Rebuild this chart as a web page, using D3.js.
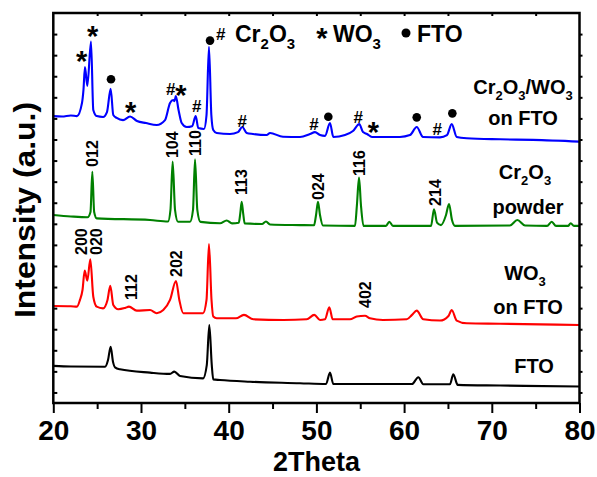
<!DOCTYPE html>
<html><head><meta charset="utf-8">
<script src="https://cdn.jsdelivr.net/npm/d3@7"></script>
<style>
body{margin:0;background:#fff}
text{font-family:"Liberation Sans",Arial,sans-serif;font-weight:bold;fill:#000}
</style>
</head><body>
<svg id="chart" width="597" height="477"></svg>
<script>
// ---------- DATA (2Theta, intensity a.u.) ----------
const xTicks = [20, 30, 40, 50, 60, 70, 80];
const xMinorTicks = [25, 35, 45, 55, 65, 75];
const topTicks = [25, 30, 35, 40, 45, 50, 55, 60, 65, 70, 75];
const yTicks = d3.range(0, 1800, 100);

const seriesCrWO = [[20,1311],[21,1309],[22,1314],[22.7,1311],[23.27,1373],[23.44,1435],[23.61,1544],[23.88,1454],[24.30,1664],[24.56,1340],[24.95,1311],[25.67,1307],[26.12,1330],[26.54,1440],[26.84,1316],[27.23,1302],[27.95,1292],[28.75,1309],[29.54,1288],[30.57,1278],[31.79,1269],[32.74,1292],[33.31,1373],[33.68,1387],[33.82,1382],[33.97,1406],[34.28,1340],[34.64,1278],[35.21,1259],[35.82,1263],[36.24,1311],[36.53,1254],[37.18,1250],[37.47,1316],[37.75,1640],[38.02,1316],[38.24,1245],[38.63,1231],[40.15,1226],[41.06,1235],[41.55,1259],[42.05,1231],[42.77,1226],[44.33,1221],[44.71,1231],[46.19,1213],[48.13,1212],[49.27,1226],[49.84,1235],[50.41,1221],[50.98,1217],[51.55,1278],[51.93,1212],[53.26,1221],[54.17,1240],[54.89,1273],[55.31,1235],[55.77,1226],[56.34,1212],[59.53,1212],[60.67,1221],[61.44,1259],[62.16,1212],[64.09,1210],[64.89,1221],[65.43,1273],[66.0,1212],[67.14,1206],[70.94,1201],[74.70,1198],[80,1190]];

const seriesCr2O3 = [[20,842],[22,835],[23.9,831],[24.24,856],[24.45,1047],[24.66,856],[24.95,826],[31.03,818],[33.08,811],[33.36,866],[33.61,1095],[33.88,866],[34.22,810],[35.59,810],[35.93,866],[36.16,1106],[36.42,866],[36.78,809],[39.01,803],[39.77,816],[40.38,802],[41.15,805],[41.32,850],[41.48,905],[41.65,850],[41.82,802],[43.8,799],[44.25,811],[44.71,797],[48.13,794],[49.73,793],[49.96,842],[50.18,904],[50.41,842],[50.75,792],[54.4,790],[54.62,889],[54.86,1019],[55.08,889],[55.37,790],[57.94,790],[58.31,810],[58.73,790],[63.07,790],[63.41,869],[63.75,806],[64.21,794],[64.78,842],[65.12,894],[65.46,818],[65.80,790],[72.07,792],[72.91,818],[73.79,792],[76.3,790],[76.83,810],[77.32,790],[78.69,790],[79.0,803],[79.37,790],[80,790]];

const seriesWO3 = [[20,410],[22,409],[22.7,407],[23.04,439],[23.33,486],[23.58,578],[23.88,530],[24.22,632],[24.56,454],[24.95,407],[25.67,399],[26.18,439],[26.50,506],[26.84,415],[27.41,395],[28.18,401],[28.63,407],[29.51,388],[31.03,391],[31.79,376],[32.54,391],[33.31,439],[33.99,529],[34.37,439],[34.82,376],[37.07,376],[37.47,439],[37.75,704],[38.04,439],[38.24,360],[38.63,352],[40.83,352],[41.74,368],[42.81,347],[46.23,344],[48.89,347],[49.76,368],[50.41,344],[50.98,347],[51.47,404],[51.86,347],[53.83,347],[54.60,360],[55.54,364],[56.11,352],[57.59,344],[60.30,347],[60.9,368],[61.44,388],[62.19,347],[64.09,341],[65.06,363],[65.43,391],[66.0,341],[67.14,328],[70.94,326],[80,320]];

const seriesFTO = [[20,126],[22,123],[25.9,122],[26.24,154],[26.54,217],[26.81,145],[27.04,119],[27.6,110],[31.03,94],[33.31,88],[33.80,99],[34.45,78],[37.07,67],[37.5,130],[37.79,320],[38.07,130],[38.24,62],[39.0,59],[42.43,51],[48.13,44],[51.10,40],[51.55,94],[51.93,40],[55.74,40],[60.9,40],[61.62,72],[62.19,39],[65.23,39],[65.61,86],[66.11,36],[70.94,33],[80,28]];

const seriesNames = ["Cr2O3/WO3 on FTO", "Cr2O3 powder", "WO3 on FTO", "FTO"];
const seriesColors = ["#0000ff", "#008000", "#ff0000", "#000000"];

// Miller index labels: [text, 2Theta, intensity at label start]
const hklCr2O3 = [["012",24.49,1070],["104",33.61,1112],["110",36.16,1122],["113",41.48,937],["024",50.22,913],["116",54.86,1027],["214",63.53,885]];
const hklWO3 = [["200",23.16,652],["020",24.87,652],["112",28.86,439],["202",33.99,548],["402",55.54,401]];

// Phase markers on the composite pattern: [symbol, 2Theta, intensity]
const phaseMarks = [["*",23.24,1601],["*",24.49,1719],["●",26.58,1486],["*",28.83,1359],["#",33.39,1439],["*",34.56,1439],["#",36.35,1359],["●",37.87,1669],["#",41.55,1289],["#",49.73,1274],["●",51.36,1308],["#",54.78,1305],["*",56.49,1264],["●",61.44,1305],["#",63.79,1248],["●",65.50,1324]];

// ---------- CHART ----------
const svg = d3.select("#chart");
const L = 53.3, R = 579.5, T = 13, B = 403;
const x = d3.scaleLinear().domain([20, 80]).range([L, R]);
const y = d3.scaleLinear().domain([-50, 1800]).range([B, T]);

const line = d3.line().x(d => x(d[0])).y(d => y(d[1])).curve(d3.curveMonotoneX);
const allSeries = [seriesCrWO, seriesCr2O3, seriesWO3, seriesFTO];
svg.append("g").selectAll("path").data(allSeries).join("path")
  .attr("d", line).attr("fill", "none")
  .attr("stroke", (d, i) => seriesColors[i]).attr("stroke-width", 2.1)
  .attr("stroke-linejoin", "round");

// axes
const gB = svg.append("g").attr("transform", `translate(0,${B})`)
  .call(d3.axisBottom(x).tickValues(xTicks).tickSize(10).tickPadding(7));
const gBm = svg.append("g").attr("transform", `translate(0,${B})`)
  .call(d3.axisBottom(x).tickValues(xMinorTicks).tickSize(6).tickFormat(""));
const gT = svg.append("g").attr("transform", `translate(0,${T})`)
  .call(d3.axisTop(x).tickValues(topTicks).tickSize(-3).tickFormat(""));
const gL = svg.append("g").attr("transform", `translate(${L},0)`)
  .call(d3.axisLeft(y).tickValues(yTicks).tickSize(-4).tickFormat(""));
const gR = svg.append("g").attr("transform", `translate(${R},0)`)
  .call(d3.axisRight(y).tickValues(yTicks).tickSize(3).tickFormat(""));
[gB, gBm, gT, gL, gR].forEach(g => {
  g.select(".domain").remove();
  g.selectAll(".tick line").attr("stroke", "#000").attr("stroke-width", 2);
});
gB.selectAll(".tick text").attr("font-size", 28).attr("font-family", "Liberation Sans, Arial, sans-serif")
  .attr("font-weight", "bold").attr("fill", "#000").attr("dy", "0.71em");

svg.append("rect").attr("x", L).attr("y", T).attr("width", R - L).attr("height", B - T)
  .attr("fill", "none").attr("stroke", "#000").attr("stroke-width", 2.5);

// axis titles
svg.append("text").attr("x", (L + R) / 2).attr("y", 470.5).attr("text-anchor", "middle")
  .attr("font-size", 27).text("2Theta");
svg.append("text").attr("transform", "translate(35,210) rotate(-90) scale(1.1,1)")
  .attr("text-anchor", "middle").attr("font-size", 29).text("Intensity (a.u.)");

// hkl labels
const hkl = svg.append("g");
[hklCr2O3, hklWO3].forEach(arr => {
  arr.forEach(([t, th, v]) => {
    hkl.append("text").attr("transform", `translate(${x(th) + 5.8},${y(v)}) rotate(-90)`)
      .attr("font-size", 16).text(t);
  });
});

// phase markers
const mk = svg.append("g");
phaseMarks.forEach(([s, th, v]) => {
  const px = x(th), py = y(v);
  if (s === "●") mk.append("circle").attr("cx", px).attr("cy", py).attr("r", 4.3).attr("fill", "#000");
  else if (s === "*") mk.append("text").attr("x", px).attr("y", py + 16).attr("text-anchor", "middle").attr("font-size", 29).text("*");
  else mk.append("text").attr("x", px).attr("y", py + 6).attr("text-anchor", "middle").attr("font-size", 17).text("#");
});

// legend
const lg = svg.append("g");
lg.append("text").attr("x", 220.7).attr("y", 39.5).attr("text-anchor", "middle").attr("font-size", 17).text("#");
function chem(g, xx, yy, parts, fs, anchor) {
  const t = g.append("text").attr("x", xx).attr("y", yy).attr("font-size", fs).attr("text-anchor", anchor || "start");
  parts.forEach(p => {
    if (p.sub) t.append("tspan").attr("font-size", fs * 0.65).attr("dy", fs * 0.3).text(p.t);
    else t.append("tspan").attr("dy", p.back ? -fs * 0.3 : 0).text(p.t);
  });
  return t;
}
const cr = [{t:"Cr"},{t:"2",sub:1},{t:"O",back:1},{t:"3",sub:1}];
chem(lg, 235, 41.7, cr, 23);
lg.append("text").attr("x", 322).attr("y", 48).attr("text-anchor", "middle").attr("font-size", 29).text("*");
chem(lg, 333, 41.7, [{t:"WO"},{t:"3",sub:1}], 23);
lg.append("circle").attr("cx", 406).attr("cy", 33).attr("r", 4.5).attr("fill", "#000");
lg.append("text").attr("x", 417).attr("y", 41.7).attr("font-size", 23).text("FTO");

// series annotations
const an = svg.append("g");
chem(an, 523, 94, [{t:"Cr"},{t:"2",sub:1},{t:"O",back:1},{t:"3",sub:1},{t:"/WO",back:1},{t:"3",sub:1}], 20, "middle");
an.append("text").attr("x", 523).attr("y", 125).attr("text-anchor", "middle").attr("font-size", 20).text("on FTO");
chem(an, 525, 179, cr, 20, "middle");
an.append("text").attr("x", 528).attr("y", 214).attr("text-anchor", "middle").attr("font-size", 20).text("powder");
chem(an, 525, 280, [{t:"WO"},{t:"3",sub:1}], 20, "middle");
an.append("text").attr("x", 528).attr("y", 314).attr("text-anchor", "middle").attr("font-size", 20).text("on FTO");
an.append("text").attr("x", 534).attr("y", 373).attr("text-anchor", "middle").attr("font-size", 20).text("FTO");
</script>
</body></html>
